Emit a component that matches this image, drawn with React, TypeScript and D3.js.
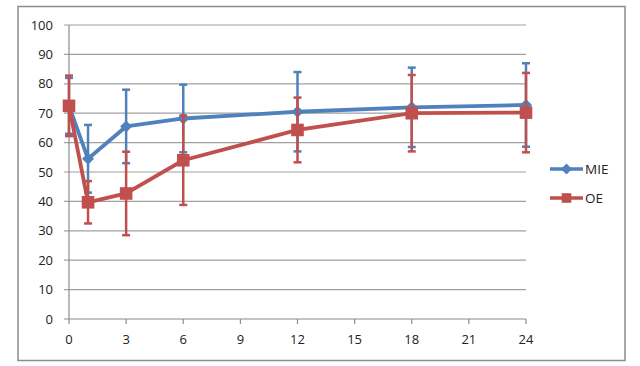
import React from "react";
import * as d3 from "d3";

const hours = [0, 1, 3, 6, 12, 18, 24];
const mieMean = [72.5, 54.5, 65.5, 68.2, 70.5, 72, 72.8];
const mieSD = [9.5, 11.5, 12.5, 11.5, 13.5, 13.5, 14.2];
const oeMean = [72.5, 39.7, 42.7, 54.0, 64.3, 70.0, 70.2];
const oeSD = [10.3, 7.2, 14.2, 15.2, 11.0, 13.0, 13.5];
const xTicks = [0, 3, 6, 9, 12, 15, 18, 21, 24];
const yTicks = [0, 10, 20, 30, 40, 50, 60, 70, 80, 90, 100];
const seriesNames = ["MIE", "OE"];

const BLUE = "#4F81BD";
const RED = "#C0504D";
const FONT = "'Open Sans', 'DejaVu Sans', sans-serif";

export default function App() {
  const W = 640, H = 366;
  const x = d3.scaleLinear().domain([0, 24]).range([69, 526]);
  const y = d3.scaleLinear().domain([0, 100]).range([319, 25]);
  const line = d3.line<number>().x((_, i) => x(hours[i])).y((d) => y(d));

  const errBars = (mean: number[], sd: number[], color: string) =>
    mean.map((m, i) => {
      const cx = x(hours[i]);
      const y1 = y(m + sd[i]);
      const y2 = y(m - sd[i]);
      return (
        <g key={i} stroke={color} strokeWidth={2.5}>
          <line x1={cx} x2={cx} y1={y1} y2={y2} />
          <line x1={cx - 4} x2={cx + 4} y1={y1} y2={y1} />
          <line x1={cx - 4} x2={cx + 4} y1={y2} y2={y2} />
        </g>
      );
    });

  const diamond = (cx: number, cy: number, s: number, color: string, k: any) => (
    <path key={k} d={`M${cx},${cy - s}L${cx + s},${cy}L${cx},${cy + s}L${cx - s},${cy}Z`} fill={color} />
  );
  const square = (cx: number, cy: number, s: number, color: string, k: any) => (
    <rect key={k} x={cx - s} y={cy - s} width={2 * s} height={2 * s} fill={color} />
  );

  return (
    <svg width={W} height={H} style={{ position: "absolute", left: 0, top: 0 }} fontFamily={FONT}>
      <rect x={0} y={0} width={W} height={H} fill="#fff" />
      <rect x={18} y={6.5} width={607} height={354} fill="#fff" stroke="#8c8c8c" strokeWidth={1.5} />
      {yTicks.map((t) => (
        <g key={t}>
          <line x1={64} x2={526} y1={y(t)} y2={y(t)} stroke={t === 0 ? "#8c8c8c" : "#a0a0a0"} strokeWidth={1.2} />
          <text x={53} y={y(t) + 4.5} textAnchor="end" fontSize={13} fill="#222">{t}</text>
        </g>
      ))}
      <line x1={69} x2={69} y1={25} y2={319} stroke="#8c8c8c" strokeWidth={1.2} />
      {xTicks.map((t) => (
        <g key={t}>
          <line x1={x(t)} x2={x(t)} y1={319} y2={324} stroke="#8c8c8c" strokeWidth={1.2} />
          <text x={x(t)} y={344} textAnchor="middle" fontSize={13} fill="#222">{t}</text>
        </g>
      ))}
      {errBars(mieMean, mieSD, BLUE)}
      <path d={line(mieMean) || ""} fill="none" stroke={BLUE} strokeWidth={3.8} strokeLinejoin="round" />
      {mieMean.map((m, i) => diamond(x(hours[i]), y(m), 6, BLUE, i))}
      {errBars(oeMean, oeSD, RED)}
      <path d={line(oeMean) || ""} fill="none" stroke={RED} strokeWidth={3.8} strokeLinejoin="round" />
      {oeMean.map((m, i) => square(x(hours[i]), y(m), 6.3, RED, i))}
      {seriesNames.map((n, i) => {
        const ly = 169 + i * 29;
        const c = i === 0 ? BLUE : RED;
        return (
          <g key={n}>
            <line x1={550} x2={583} y1={ly} y2={ly} stroke={c} strokeWidth={3.5} />
            {i === 0 ? diamond(566.5, ly, 5.5, c, "m") : square(566.5, ly, 4.8, c, "m")}
            <text x={585} y={ly + 5} fontSize={13.5} fill="#222">{n}</text>
          </g>
        );
      })}
    </svg>
  );
}
